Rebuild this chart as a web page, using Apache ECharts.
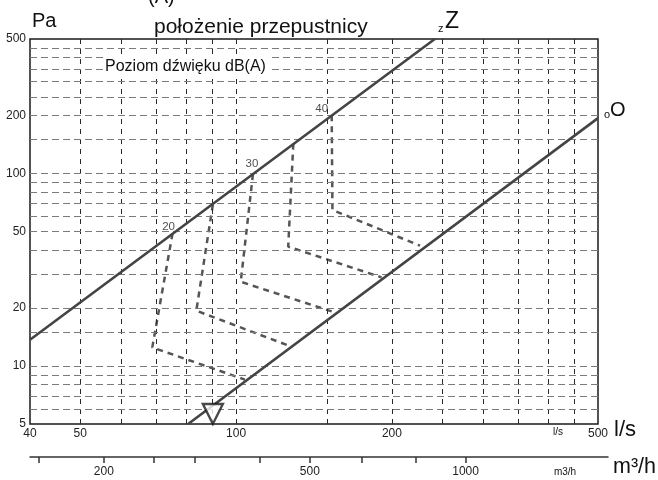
<!DOCTYPE html>
<html>
<head>
<meta charset="utf-8">
<script src="https://cdn.jsdelivr.net/npm/echarts@6.0.0/dist/echarts.min.js"></script>
<style>
    html, body { margin: 0; padding: 0; background: #fff; }
    #chart { width: 658px; height: 480px; }
</style>
</head>
<body>
<div id="chart"></div>
<script>
// siatka wykresu
const xGrid = [50, 60, 70, 80, 90, 100, 150, 200, 250, 300, 350, 400, 450];
const yGrid = [6, 7, 8, 9, 10, 15, 20, 30, 40, 50, 60, 70, 80, 90, 100, 150, 200, 250, 300, 350, 400, 450];
const xLabels = [40, 50, 100, 200, 500];
const yLabels = [5, 10, 20, 50, 100, 200, 500];
const m3hTicks = [150, 200, 250, 300, 400, 500, 630, 800, 1000];
const m3hLabels = [200, 500, 1000];

// położenie przepustnicy: Z (zamknięta) i O (otwarta), [l/s, Pa]
const lineZ = [[40, 13.7], [242, 500]];
const lineO = [[80.8, 5], [500, 194]];

// poziom dźwięku dB(A)
const curve20 = [[75.4, 48.9], [68.9, 12.5], [104, 8.5]];
const curve25 = [[90.2, 69], [83.8, 19.4], [128, 12.6]];
const curve30 = [[107.8, 99.3], [102.1, 27.4], [155, 19]];
const curve35 = [[129, 143], [126.1, 41.7], [191, 28.9]];
const curve40 = [[153, 201], [153.5, 64.7], [226.6, 42.2]];
const curveNames = ['20', '30', '40'];
const curveNamePoints = [[75.4, 48.9], [107.8, 99.3], [153, 201]];

const marker = [[90.2, 5.64]];

const FONT = '"Liberation Sans", Arial, sans-serif';
const NARROW = '"Liberation Sans Narrow", "Liberation Sans", Arial, sans-serif';
const labelOffsets = [[-4, 1], [-1, -2], [-10, 2]];

const chart = echarts.init(document.getElementById('chart'));

function curve(data) {
    return {
        type: 'line', data, symbol: 'none', z: 4, silent: true,
        lineStyle: { color: '#555', width: 2.5, type: [6, 5] }
    };
}

function text(x, y, str, size, opts = {}) {
    return {
        type: 'text', x, y, z: 10, silent: true,
        style: Object.assign({
            text: str, fill: '#111', fontSize: size, fontFamily: FONT,
            align: 'left', verticalAlign: 'middle'
        }, opts)
    };
}

chart.setOption({
    animation: false,
    grid: [
        { left: 30, right: 60, top: 39, bottom: 56, show: true, borderColor: '#1a1a1a', borderWidth: 1.5, backgroundColor: 'transparent' },
        { left: 30, right: 50, top: 437, bottom: 23 }
    ],
    xAxis: [
        {
            type: 'log', min: 40, max: 500, gridIndex: 0,
            axisLine: { show: false }, axisTick: { show: false }, splitLine: { show: false },
            axisLabel: { customValues: xLabels, margin: 4, fontSize: 12, color: '#222', fontFamily: NARROW, formatter: v => String(v) }
        },
        {
            type: 'log', min: 144, max: 1884, gridIndex: 1, position: 'bottom',
            axisLine: { show: true, lineStyle: { color: '#333', width: 1.5 } },
            axisTick: { show: true, customValues: m3hTicks, length: 6, lineStyle: { color: '#333', width: 1.5 } },
            splitLine: { show: false },
            axisLabel: { customValues: m3hLabels, margin: 9, fontSize: 12, color: '#222', fontFamily: NARROW, formatter: v => String(v) }
        }
    ],
    yAxis: [
        {
            type: 'log', min: 5, max: 500, gridIndex: 0,
            axisLine: { show: false }, axisTick: { show: false }, splitLine: { show: false },
            axisLabel: { customValues: yLabels, margin: 4, fontSize: 12, color: '#222', fontFamily: NARROW, formatter: v => String(v) }
        },
        { type: 'value', gridIndex: 1, show: false }
    ],
    series: [
        {
            type: 'line', data: [[40, 5]], symbol: 'none', silent: true, z: 1,
            markLine: {
                silent: true, symbol: ['none', 'none'], label: { show: false },
                lineStyle: { color: '#2a2a2a', width: 1, type: [5, 5] },
                data: xGrid.map(v => ({ xAxis: v }))
            }
        },
        {
            type: 'line', data: [[40, 5]], symbol: 'none', silent: true, z: 1,
            markLine: {
                silent: true, symbol: ['none', 'none'], label: { show: false },
                lineStyle: { color: '#7a7a7a', width: 1, type: [7, 4] },
                data: yGrid.map(v => ({ yAxis: v }))
            }
        },
        { type: 'line', data: lineZ, symbol: 'none', z: 5, silent: true, lineStyle: { color: '#444', width: 2.6 } },
        { type: 'line', data: lineO, symbol: 'none', z: 5, silent: true, lineStyle: { color: '#444', width: 2.6 } },
        curve(curve20), curve(curve25), curve(curve30), curve(curve35), curve(curve40),
        {
            type: 'scatter', symbolSize: 0, z: 6, silent: true,
            data: curveNamePoints.map((p, i) => ({
                value: p,
                label: { show: true, formatter: curveNames[i], position: 'top', distance: 2, offset: labelOffsets[i], fontSize: 11.5, color: '#222', fontFamily: NARROW }
            }))
        },
        {
            type: 'scatter', data: marker, symbol: 'triangle', symbolRotate: 180, symbolSize: [20, 20], z: 7, silent: true,
            itemStyle: { color: '#fff', borderColor: '#1a1a1a', borderWidth: 2.4 }
        }
    ],
    graphic: [
        text(148, -3, '(A)', 20),
        text(32, 21, 'Pa', 20),
        text(154, 27, 'położenie przepustnicy', 21),
        text(438, 28.5, 'z', 11),
        text(445, 22, 'Z', 23),
        text(604, 114.5, 'o', 11),
        text(610, 110, 'O', 20),
        text(103, 67, 'Poziom dźwięku dB(A)', 16, { backgroundColor: '#fff', padding: [3, 2, 3, 2] }),
        text(558, 432, 'l/s', 10, { align: 'center', fontFamily: NARROW }),
        text(614, 430, 'l/s', 22),
        text(565, 472, 'm3/h', 10, { align: 'center', fontFamily: NARROW }),
        text(613, 467, 'm³/h', 21.5)
    ]
});
</script>
</body>
</html>
